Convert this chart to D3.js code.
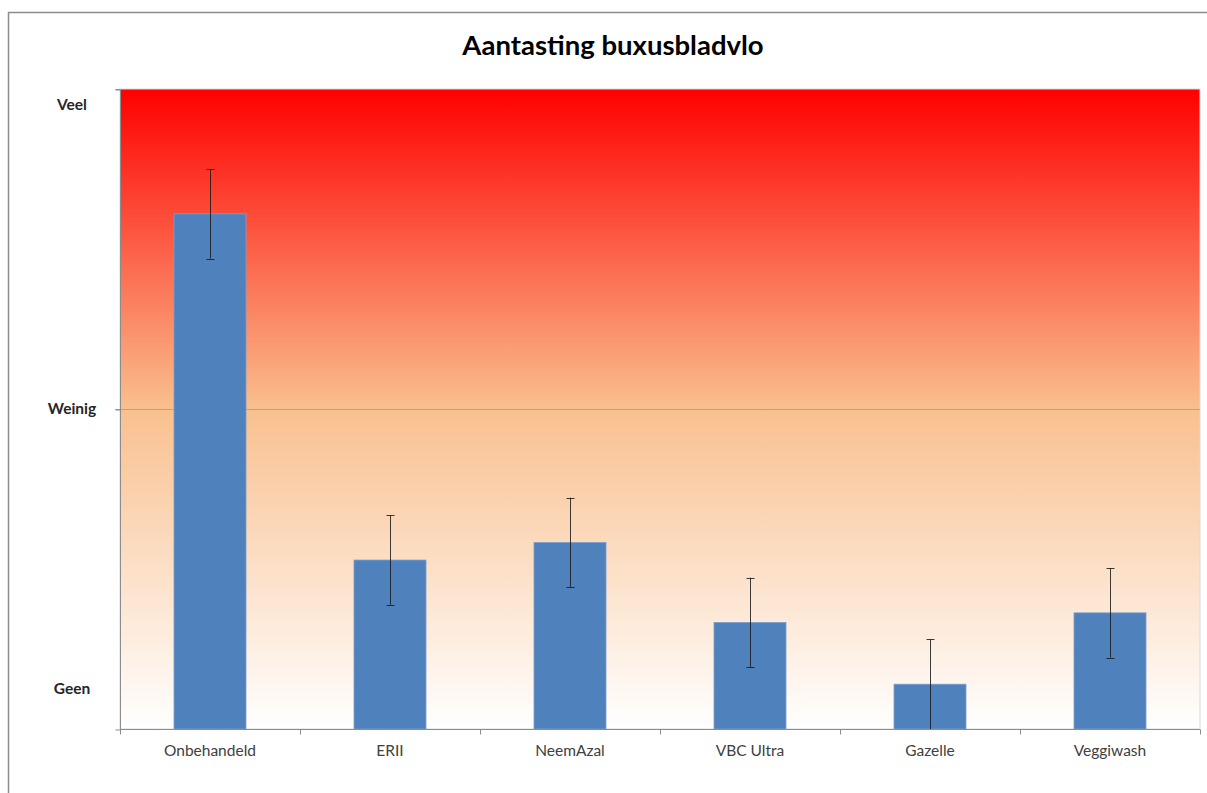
<!DOCTYPE html>
<html>
<head>
<meta charset="utf-8">
<script src="https://cdn.jsdelivr.net/npm/d3@7"></script>
<style>
  body { margin: 0; background: #fff; }
  svg { display: block; font-family: Lato, "Open Sans", sans-serif; }
</style>
</head>
<body>
<div id="chart"></div>
<script>
// data
const categories = ["Onbehandeld", "ERII", "NeemAzal", "VBC Ultra", "Gazelle", "Veggiwash"]
const values = [1.61, 0.528, 0.583, 0.333, 0.14, 0.363]
const errors = [0.14, 0.14, 0.14, 0.14, 0.14, 0.14]
const levelTicks = [0, 1, 2]
const levelLabels = ["Geen", "Weinig", "Veel"]
const levelLabelAt = [0.125, 1, 1.95]

const width = 1207
const height = 793
const plot = { left: 120, right: 1200, top: 89, bottom: 729 }

const svg = d3.select("#chart")
  .append("svg")
    .attr("width", width)
    .attr("height", height)

// background gradient red -> peach -> white
const defs = svg.append("defs")
const grad = defs.append("linearGradient")
  .attr("id", "bg")
  .attr("x1", 0).attr("y1", 0).attr("x2", 0).attr("y2", 1)
grad.append("stop").attr("offset", "0%").attr("stop-color", "#ff0000")
grad.append("stop").attr("offset", "50%").attr("stop-color", "#f9c08f")
grad.append("stop").attr("offset", "100%").attr("stop-color", "#ffffff")

// outer chart frame
svg.append("rect")
  .attr("x", 8.5).attr("y", 12.5)
  .attr("width", 1220).attr("height", 800)
  .attr("fill", "#fff")
  .attr("stroke", "#8c8c8c")
  .attr("stroke-width", 1.5)

const x = d3.scaleBand()
  .domain(categories)
  .range([plot.left, plot.right])
  .paddingInner(0.6)
  .paddingOuter(0.3)

const y = d3.scaleLinear()
  .domain([0, 2])
  .range([plot.bottom, plot.top])

// plot area
svg.append("rect")
  .attr("x", plot.left).attr("y", plot.top)
  .attr("width", plot.right - plot.left)
  .attr("height", plot.bottom - plot.top)
  .attr("fill", "url(#bg)")
  .attr("stroke", "#d9d9d9")
  .attr("stroke-width", 1)

// gridline at Weinig
svg.append("g")
  .selectAll("line")
  .data(levelTicks.filter(d => d > 0 && d < 2))
  .join("line")
    .attr("x1", plot.left - 5).attr("x2", plot.right)
    .attr("y1", d => y(d) + 0.5).attr("y2", d => y(d) + 0.5)
    .attr("stroke", "#a6a6a6")

// y axis (labels drawn separately)
const yAxis = svg.append("g")
  .attr("transform", `translate(${plot.left + 0.5},0.5)`)
  .call(d3.axisLeft(y).tickValues(levelTicks).tickSize(5).tickFormat(""))
yAxis.select(".domain").attr("stroke", "#8c8c8c").attr("d", `M-5,${plot.top}H0V${plot.bottom}`)
yAxis.selectAll(".tick line").attr("stroke", "#8c8c8c")

svg.append("g")
  .selectAll("text")
  .data(levelLabels)
  .join("text")
    .attr("x", 72)
    .attr("y", (d, i) => y(levelLabelAt[i]))
    .attr("dy", "0.35em")
    .attr("text-anchor", "middle")
    .attr("font-size", 15.5)
    .attr("font-weight", "bold")
    .attr("fill", "#262626")
    .text(d => d)

// bars
svg.append("g")
  .selectAll("rect")
  .data(values)
  .join("rect")
    .attr("x", (d, i) => x(categories[i]))
    .attr("y", d => y(d))
    .attr("width", x.bandwidth())
    .attr("height", d => y(0) - y(d))
    .attr("fill", "#4f81bd")
    .attr("stroke", "#7d9fcb")
    .attr("stroke-width", 0.8)

// error bars
const err = svg.append("g")
  .attr("stroke", "#1a1a1a")
  .attr("stroke-opacity", 0.85)
  .attr("stroke-width", 1)
  .selectAll("g")
  .data(values)
  .join("g")
    .attr("transform", (d, i) => `translate(${Math.round(x(categories[i]) + x.bandwidth() / 2) + 0.5},0)`)
err.append("line")
  .attr("y1", (d, i) => y(d + errors[i]))
  .attr("y2", (d, i) => y(Math.max(0, d - errors[i])))
err.selectAll(".cap")
  .data((d, i) => [d + errors[i], d - errors[i]])
  .join("line")
    .attr("class", "cap")
    .attr("x1", -4).attr("x2", 4)
    .attr("y1", d => Math.round(y(d)) + 0.5)
    .attr("y2", d => Math.round(y(d)) + 0.5)

// x axis with ticks between categories
const xAxisG = svg.append("g")
  .attr("transform", `translate(0,${plot.bottom + 0.5})`)
xAxisG.append("line")
  .attr("x1", plot.left).attr("x2", plot.right)
  .attr("stroke", "#8c8c8c")
xAxisG.selectAll(".sep")
  .data(d3.range(categories.length + 1))
  .join("line")
    .attr("class", "sep")
    .attr("x1", i => Math.round(plot.left + i * x.step()) + 0.5)
    .attr("x2", i => Math.round(plot.left + i * x.step()) + 0.5)
    .attr("y1", 0).attr("y2", 5)
    .attr("stroke", "#8c8c8c")
xAxisG.selectAll("text")
  .data(categories)
  .join("text")
    .attr("x", d => x(d) + x.bandwidth() / 2)
    .attr("y", 21)
    .attr("dy", "0.35em")
    .attr("text-anchor", "middle")
    .attr("font-size", 15.5)
    .attr("fill", "#404040")
    .text(d => d)

// title
svg.append("text")
  .attr("x", 613)
  .attr("y", 55)
  .attr("text-anchor", "middle")
  .attr("font-size", 27.5)
  .attr("font-weight", "bold")
  .attr("fill", "#000")
  .text("Aantasting buxusbladvlo")
</script>
</body>
</html>
